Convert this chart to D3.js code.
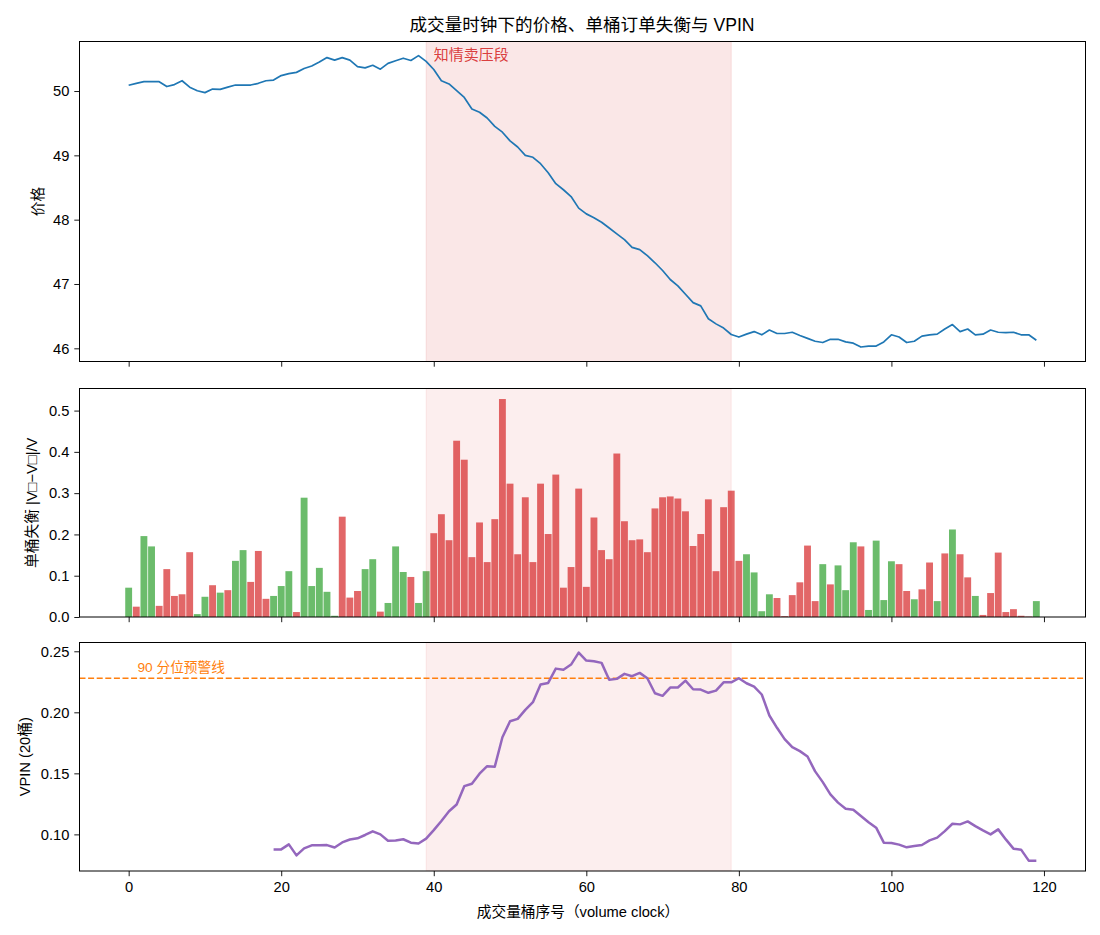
<!DOCTYPE html>
<html>
<head>
<meta charset="utf-8">
<script src="https://cdn.jsdelivr.net/npm/d3@7"></script>
<style>
  html, body { margin: 0; padding: 0; background: #fff; }
  text { font-family: "Liberation Sans", "Noto Sans CJK SC", sans-serif; }
</style>
</head>
<body>
<svg id="chart" width="1100" height="935"></svg>
<script>
// ---------------- data ----------------
const buckets = d3.range(0, 120);

const price = [
  50.09, 50.12, 50.145, 50.145, 50.145, 50.07, 50.10, 50.16, 50.06, 50.005,
  49.975, 50.03, 50.025, 50.06, 50.093, 50.093, 50.093, 50.12, 50.16, 50.17,
  50.24, 50.27, 50.29, 50.35, 50.39, 50.45, 50.52, 50.48, 50.52, 50.48,
  50.38, 50.36, 50.40, 50.34, 50.43, 50.47, 50.51, 50.475, 50.55, 50.46,
  50.335, 50.16, 50.11, 50.005, 49.90, 49.72, 49.67, 49.58, 49.45, 49.36,
  49.225, 49.13, 49.00, 48.97, 48.87, 48.73, 48.56, 48.465, 48.36, 48.18,
  48.09, 48.03, 47.96, 47.87, 47.78, 47.69, 47.57, 47.535, 47.44, 47.33,
  47.21, 47.07, 46.97, 46.84, 46.71, 46.66, 46.46, 46.38, 46.315, 46.215,
  46.175, 46.22, 46.26, 46.21, 46.285, 46.23, 46.23, 46.25, 46.20, 46.155,
  46.11, 46.09, 46.14, 46.14, 46.10, 46.08, 46.02, 46.035, 46.035, 46.10,
  46.21, 46.175, 46.09, 46.11, 46.19, 46.21, 46.22, 46.30, 46.37, 46.26,
  46.30, 46.21, 46.22, 46.285, 46.25, 46.245, 46.25, 46.21, 46.21, 46.125
];

// signed bucket imbalance: positive = buy-dominated (green), negative = sell-dominated (red)
const imbalance = [
  0.071, -0.025, 0.196, 0.171, -0.027, -0.116, -0.051, -0.055, -0.157, 0.007,
  0.049, -0.077, 0.059, -0.065, 0.136, 0.162, -0.085, -0.160, -0.044, 0.051,
  0.075, 0.111, -0.012, 0.289, 0.075, 0.119, 0.061, 0.003, -0.243, -0.047,
  -0.063, 0.116, 0.140, -0.013, 0.034, 0.171, 0.109, -0.097, 0.034, 0.111,
  -0.203, -0.249, -0.186, -0.427, -0.381, -0.145, -0.229, -0.133, -0.237, -0.528,
  -0.323, -0.152, -0.290, -0.133, -0.323, -0.201, -0.345, -0.071, -0.121, -0.311,
  -0.073, -0.241, -0.162, -0.140, -0.396, -0.232, -0.186, -0.188, -0.157, -0.263,
  -0.290, -0.292, -0.287, -0.256, -0.172, -0.201, -0.285, -0.111, -0.266, -0.306,
  -0.136, 0.152, 0.108, 0.014, 0.055, -0.046, -0.002, -0.053, -0.084, -0.173,
  -0.0385, 0.128, -0.079, 0.125, 0.065, 0.181, -0.171, 0.017, 0.185, 0.041,
  0.135, -0.128, -0.063, 0.043, -0.067, -0.132, 0.0385, -0.154, 0.212, -0.152,
  -0.096, 0.051, -0.005, -0.058, -0.156, -0.012, -0.019, -0.003, -0.001, 0.0385
];

// VPIN over a 20-bucket rolling window (defined from bucket 19 onward)
const vpinStart = 19;
const vpin = [
  0.0877, 0.0877, 0.0918, 0.0828, 0.0885, 0.091, 0.091, 0.0912, 0.0893, 0.0934,
  0.0958, 0.0968, 0.0995, 0.1025, 0.100, 0.0948, 0.0950, 0.0960, 0.0932, 0.0925,
  0.0965, 0.1035, 0.1110, 0.1190, 0.1245, 0.1395, 0.1415, 0.1497, 0.1559, 0.1555,
  0.1796, 0.1927, 0.1946, 0.2020, 0.2083, 0.2228, 0.2241, 0.2358, 0.2348, 0.2391,
  0.2489, 0.2424, 0.2418, 0.2405, 0.2266, 0.2274, 0.2315, 0.2296, 0.2323, 0.2279,
  0.2156, 0.2135, 0.2203, 0.2203, 0.2260, 0.2189, 0.2186, 0.2160, 0.2178, 0.2246,
  0.2246, 0.2279, 0.2238, 0.2211, 0.2146, 0.1974, 0.1873, 0.1780, 0.1714, 0.1682,
  0.1638, 0.1516, 0.1428, 0.1327, 0.1260, 0.1210, 0.1202, 0.1150, 0.1100, 0.1055,
  0.0932, 0.0929, 0.0916, 0.0894, 0.0904, 0.0913, 0.0951, 0.0973, 0.1027, 0.1087,
  0.1082, 0.1106, 0.1068, 0.1033, 0.1000, 0.1041, 0.0959, 0.0883, 0.0875, 0.0785,
  0.0785
];
const vpinAlarm = 0.2279;        // 90th percentile warning line
const informedSpan = [39, 79];   // informed selling segment

const xTicks = [0, 20, 40, 60, 80, 100, 120];
const priceTicks = [46, 47, 48, 49, 50];
const barTicks = [0.0, 0.1, 0.2, 0.3, 0.4, 0.5];
const vpinTicks = [0.10, 0.15, 0.20, 0.25];

const texts = {
  title: "成交量时钟下的价格、单桶订单失衡与 VPIN",
  priceLabel: "价格",
  barLabel: "单桶失衡 |V□−V□|/V",
  vpinLabel: "VPIN (20桶)",
  xLabel: "成交量桶序号（volume clock）",
  spanLabel: "知情卖压段",
  alarmLabel: "90 分位预警线"
};

// ---------------- layout ----------------
const svg = d3.select("#chart");
const L = 79.5, R = 1085.5;
const panels = [
  { top: 41.5, bottom: 361.5 },
  { top: 388.5, bottom: 617 },
  { top: 642.5, bottom: 871 }
];
const FS = 14.7;
const TICK = 5.2;

const x = d3.scaleLinear().domain([-6.445, 125.445]).range([L, R]);
const yP = d3.scaleLinear().domain([45.795, 50.77]).range([panels[0].bottom, panels[0].top]);
const yB = d3.scaleLinear().domain([0, 0.5535]).range([panels[1].bottom, panels[1].top]);
const yV = d3.scaleLinear().domain([0.0700, 0.2572]).range([panels[2].bottom, panels[2].top]);

const RED = "#d62728", GREEN = "#2ca02c";

function clip(id, p) {
  svg.append("clipPath").attr("id", id).append("rect")
    .attr("x", L).attr("y", p.top).attr("width", R - L).attr("height", p.bottom - p.top);
}
clip("c0", panels[0]); clip("c1", panels[1]); clip("c2", panels[2]);

function span(p, alpha, g) {
  g.append("rect")
    .attr("x", x(informedSpan[0])).attr("width", x(informedSpan[1]) - x(informedSpan[0]))
    .attr("y", p.top).attr("height", p.bottom - p.top)
    .attr("fill", RED).attr("fill-opacity", alpha)
    .attr("stroke", RED).attr("stroke-opacity", alpha).attr("stroke-width", 1);
}

function frame(p, yScale, ticks, fmt, showXLabels) {
  const g = svg.append("g");
  g.append("rect").attr("x", L).attr("y", p.top).attr("width", R - L).attr("height", p.bottom - p.top)
    .attr("fill", "none").attr("stroke", "#000").attr("stroke-width", 1);
  const ya = g.append("g").attr("transform", `translate(${L},0)`)
    .call(d3.axisLeft(yScale).tickValues(ticks).tickFormat(fmt).tickSize(TICK).tickPadding(5));
  ya.select(".domain").remove();
  ya.selectAll("text").attr("font-size", FS).attr("fill", "#000");
  const xa = g.append("g").attr("transform", `translate(0,${p.bottom})`)
    .call(d3.axisBottom(x).tickValues(xTicks).tickSize(TICK).tickPadding(5)
      .tickFormat(showXLabels ? d3.format("d") : () => ""));
  xa.select(".domain").remove();
  xa.selectAll("text").attr("font-size", FS).attr("fill", "#000");
  g.selectAll(".tick line").attr("stroke", "#000").attr("stroke-width", 0.9);
}

// ---- panel 1: price ----
const g0 = svg.append("g").attr("clip-path", "url(#c0)");
span(panels[0], 0.11, g0);
g0.append("path").datum(price)
  .attr("d", d3.line().x((d, i) => x(buckets[i])).y(d => yP(d)))
  .attr("fill", "none").attr("stroke", "#1f77b4").attr("stroke-width", 1.7)
  .attr("stroke-linejoin", "round");
svg.append("text").attr("x", x(40)).attr("y", panels[0].top + 18)
  .attr("font-size", 15).attr("fill", RED).attr("fill-opacity", 0.9).text(texts.spanLabel);
frame(panels[0], yP, priceTicks, d3.format("d"), false);

// ---- panel 2: imbalance bars ----
const g1 = svg.append("g").attr("clip-path", "url(#c1)");
g1.selectAll("rect.bar").data(imbalance).join("rect").attr("class", "bar")
  .attr("x", (d, i) => x(buckets[i] - 0.45))
  .attr("width", (d, i) => x(buckets[i] + 0.45) - x(buckets[i] - 0.45))
  .attr("y", d => yB(Math.abs(d)))
  .attr("height", d => yB(0) - yB(Math.abs(d)))
  .attr("fill", d => d >= 0 ? GREEN : RED).attr("fill-opacity", 0.7);
span(panels[1], 0.08, g1);
frame(panels[1], yB, barTicks, d3.format(".1f"), false);

// ---- panel 3: VPIN ----
const g2 = svg.append("g").attr("clip-path", "url(#c2)");
span(panels[2], 0.08, g2);
g2.append("line").attr("x1", L).attr("x2", R)
  .attr("y1", yV(vpinAlarm)).attr("y2", yV(vpinAlarm))
  .attr("stroke", "#ff7f0e").attr("stroke-width", 1.6).attr("stroke-dasharray", "6,2.6");
g2.append("path").datum(vpin)
  .attr("d", d3.line().x((d, i) => x(vpinStart + i)).y(d => yV(d)))
  .attr("fill", "none").attr("stroke", "#9467bd").attr("stroke-width", 2.5)
  .attr("stroke-linejoin", "round");
svg.append("text").attr("x", x(1.15)).attr("y", yV(vpinAlarm) - 6.5)
  .attr("font-size", 13.7).attr("fill", "#ff7f0e").text(texts.alarmLabel);
frame(panels[2], yV, vpinTicks, d3.format(".2f"), true);

// ---- labels ----
svg.append("text").attr("x", 582).attr("y", 31).attr("text-anchor", "middle")
  .attr("font-size", 17.6).attr("fill", "#000").text(texts.title);
svg.append("text").attr("x", 578).attr("y", 917).attr("text-anchor", "middle")
  .attr("font-size", FS).attr("fill", "#000").text(texts.xLabel);

function ylab(txt, cx, cy) {
  svg.append("text").attr("transform", `translate(${cx},${cy}) rotate(-90)`)
    .attr("text-anchor", "middle").attr("dominant-baseline", "central")
    .attr("font-size", FS).attr("fill", "#000").text(txt);
}
ylab(texts.priceLabel, 38, (panels[0].top + panels[0].bottom) / 2);
ylab(texts.barLabel, 32, (panels[1].top + panels[1].bottom) / 2);
ylab(texts.vpinLabel, 25, (panels[2].top + panels[2].bottom) / 2);
</script>
</body>
</html>
